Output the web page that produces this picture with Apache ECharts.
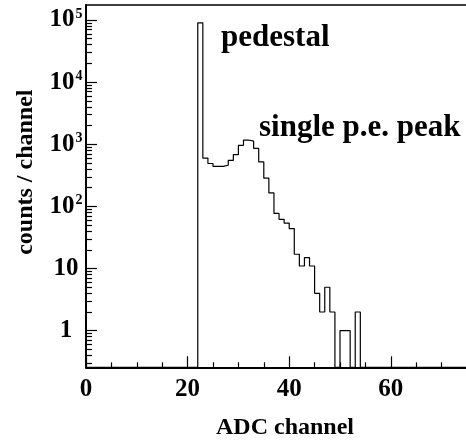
<!DOCTYPE html>
<html><head><meta charset="utf-8">
<script src="https://cdn.jsdelivr.net/npm/echarts@6/dist/echarts.min.js"></script>
<style>html,body{margin:0;padding:0;background:#fff}#c{width:466px;height:440px}</style>
</head><body><div id="c"></div>
<script>
// ADC bins (low edges, width 1) and counts per channel
const binLow = Array.from({length: 75}, (_, i) => i);
const counts = [
  0,0,0,0,0,0,0,0,0,0, 0,0,0,0,0,0,0,0,0,0, 0,0,
  90000, 600, 490, 440, 440, 460, 550, 680, 960, 1170,
  1120, 860, 520, 285, 165, 77, 62, 54, 44, 17,
  11, 15, 11, 4, 2, 5, 2, 0, 1, 1,
  0, 2,
  0,0,0,0,0,0,0,0,0,0, 0,0,0,0,0,0,0,0,0,0, 0
];
const xTickValues = [0, 20, 40, 60];
const xMinorTicks = [5, 10, 15, 25, 30, 35, 45, 50, 55, 65, 70];
const yTickValues = [1, 10, 100, 1000, 10000, 100000];
const yMinorTicks = [0.3,0.4,0.5,0.6,0.7,0.8,0.9, 2,3,4,5,6,7,8,9, 20,30,40,50,60,70,80,90,
  200,300,400,500,600,700,800,900, 2000,3000,4000,5000,6000,7000,8000,9000,
  20000,30000,40000,50000,60000,70000,80000,90000];
const annotations = ['pedestal', 'single p.e. peak'];
const xTitle = 'ADC channel';
const yTitle = 'counts / channel';

const X_MIN = 0, X_MAX = 75, Y_MIN = 0.2576, Y_MAX = 174200;
const FONT = '"Liberation Serif", "Times New Roman", serif';

const lineData = binLow.map((x, i) => [x, Math.max(counts[i], Y_MIN)]);
lineData.push([binLow[binLow.length - 1] + 1, Math.max(counts[counts.length - 1], Y_MIN)]);

const gridPos = {left: 86, top: 5, width: 381, height: 362.3, outerBoundsMode: 'none', containLabel: false};
const chart = echarts.init(document.getElementById('c'), null, {renderer: 'canvas'});
chart.setOption({
  animation: false,
  backgroundColor: '#fff',
  grid: [
    Object.assign({show: false}, gridPos),
    Object.assign({show: false}, gridPos)
  ],
  xAxis: [{
    type: 'value', gridIndex: 0, min: X_MIN, max: X_MAX, position: 'bottom',
    axisLine: {show: true, onZero: false, lineStyle: {color: '#000', width: 2}},
    axisTick: {show: true, inside: true, length: 11, customValues: xTickValues, lineStyle: {color: '#000', width: 1.2}},
    axisLabel: {show: true, customValues: xTickValues, margin: 10, color: '#000', fontFamily: FONT, fontWeight: 'bold', fontSize: 25},
    splitLine: {show: false},
    name: xTitle, nameLocation: 'middle', nameGap: 48,
    nameTextStyle: {color: '#000', fontFamily: FONT, fontWeight: 'bold', fontSize: 24, padding: [0, 0, 0, 17]}
  }, {
    type: 'value', gridIndex: 1, min: X_MIN, max: X_MAX, position: 'bottom',
    axisLine: {show: false},
    axisTick: {show: true, inside: true, length: 5, customValues: xMinorTicks, lineStyle: {color: '#000', width: 1.2}},
    axisLabel: {show: false}, splitLine: {show: false}
  }, {
    type: 'value', gridIndex: 0, min: X_MIN, max: X_MAX, position: 'top',
    axisLine: {show: true, onZero: false, lineStyle: {color: '#000', width: 1.5}},
    axisTick: {show: false}, axisLabel: {show: false}, splitLine: {show: false}
  }],
  yAxis: [{
    type: 'log', logBase: 10, gridIndex: 0, min: Y_MIN, max: Y_MAX,
    axisLine: {show: true, onZero: false, lineStyle: {color: '#000', width: 2}},
    axisTick: {show: true, inside: true, length: 11, customValues: yTickValues, lineStyle: {color: '#000', width: 1.2}},
    axisLabel: {
      show: true, customValues: yTickValues, margin: 20, align: 'center',
      color: '#000', fontFamily: FONT, fontWeight: 'bold', fontSize: 25,
      formatter: v => {
        const e = Math.round(Math.log10(v));
        if (e === 0) return '{m|1}';
        if (e === 1) return '{m|10}';
        return '{m|10}{sup|' + e + '}';
      },
      rich: {
        m: {fontSize: 25, lineHeight: 25, fontFamily: FONT, fontWeight: 'bold', color: '#000', verticalAlign: 'bottom', padding: [9, 0, 0, 0]},
        sup: {fontSize: 14, lineHeight: 14, fontFamily: FONT, fontWeight: 'bold', color: '#000', padding: [0, 0, 12, 1]}
      }
    },
    splitLine: {show: false},
    name: yTitle, nameLocation: 'middle', nameGap: 48, nameRotate: 90,
    nameTextStyle: {color: '#000', fontFamily: FONT, fontWeight: 'bold', fontSize: 24, padding: [0, 0, 0, 28]}
  }, {
    type: 'log', logBase: 10, gridIndex: 1, min: Y_MIN, max: Y_MAX,
    axisLine: {show: false},
    axisTick: {show: true, inside: true, length: 6, customValues: yMinorTicks, lineStyle: {color: '#000', width: 1.2}},
    axisLabel: {show: false}, splitLine: {show: false}
  }],
  series: [{
    type: 'line', xAxisIndex: 0, yAxisIndex: 0, step: 'end',
    data: lineData, symbol: 'none', clip: true,
    lineStyle: {color: '#000', width: 1.2}
  }],
  graphic: [
    {type: 'text', left: 221, top: 22, style: {text: annotations[0], font: 'bold 31px ' + FONT, fill: '#000'}},
    {type: 'text', left: 259, top: 112, style: {text: annotations[1], font: 'bold 31px ' + FONT, fill: '#000'}}
  ]
});
</script></body></html>
